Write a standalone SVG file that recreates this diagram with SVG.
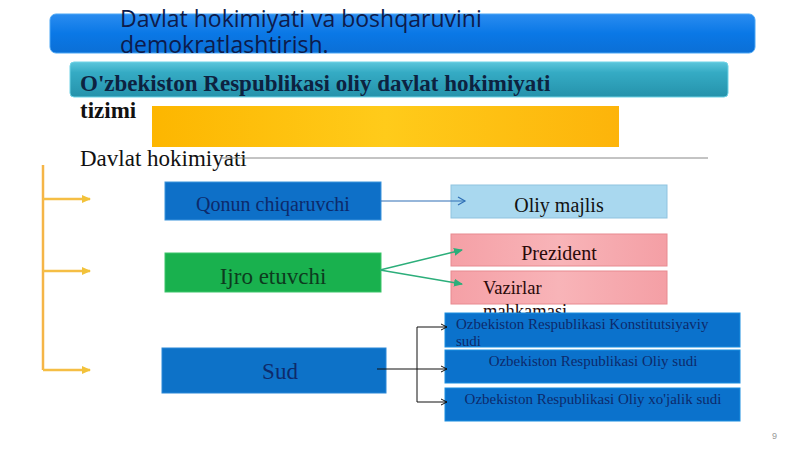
<svg xmlns="http://www.w3.org/2000/svg" width="800" height="449" viewBox="0 0 800 449">
<defs>
<linearGradient id="gTop" x1="0" y1="0" x2="0" y2="1"><stop offset="0" stop-color="#2a8cf0"/><stop offset="0.5" stop-color="#0a78e6"/><stop offset="1" stop-color="#0b6fd6"/></linearGradient>
<linearGradient id="gTeal" x1="0" y1="0" x2="0" y2="1"><stop offset="0" stop-color="#5cc6dc"/><stop offset="0.3" stop-color="#35abc4"/><stop offset="1" stop-color="#2592ab"/></linearGradient>
<linearGradient id="gYel" x1="0" y1="0" x2="1" y2="0"><stop offset="0" stop-color="#fdb600"/><stop offset="0.5" stop-color="#ffcb1a"/><stop offset="1" stop-color="#fdb40a"/></linearGradient>
<linearGradient id="gPink" x1="0" y1="0" x2="1" y2="0"><stop offset="0" stop-color="#f5a0a6"/><stop offset="0.5" stop-color="#f8b4b8"/><stop offset="1" stop-color="#f49fa5"/></linearGradient>
<marker id="aBlue" markerWidth="10" markerHeight="10" refX="8" refY="5" orient="auto" markerUnits="userSpaceOnUse"><path d="M1,1 L8,5 L1,9" fill="none" stroke="#2f6fb5" stroke-width="1.2"/></marker>
<marker id="aGreen" markerWidth="10" markerHeight="10" refX="8" refY="5" orient="auto" markerUnits="userSpaceOnUse"><path d="M0,1 L9,5 L0,9 Z" fill="#2cae7a"/></marker>
<marker id="aBlack" markerWidth="8" markerHeight="8" refX="7" refY="4" orient="auto" markerUnits="userSpaceOnUse"><path d="M1,1 L7,4 L1,7" fill="none" stroke="#111" stroke-width="1"/></marker>
<marker id="aOrange" markerWidth="10" markerHeight="10" refX="8" refY="5" orient="auto" markerUnits="userSpaceOnUse"><path d="M0,1 L9,5 L0,9 Z" fill="#f2c23a"/></marker>
</defs>
<style>
.serif{font-family:"Liberation Serif","Times New Roman",serif}
.sans{font-family:"Open Sans","Noto Sans","DejaVu Sans",sans-serif}
.navy{fill:#0d1b4b}
.court{fill:#0b72cc;stroke:#1b8ee0;stroke-width:1}
.ctext{font-family:"Liberation Serif",serif;font-size:15px;fill:#0d2a6b}
</style>
<rect width="800" height="449" fill="#ffffff"/>

<g id="title">
<rect x="50" y="14" width="705" height="39" rx="6" fill="url(#gTop)" stroke="#4aa6f5" stroke-width="1"/>
<text x="120" y="27" class="sans navy" font-size="23">Davlat hokimiyati va boshqaruvini</text>
<text x="120" y="53" class="sans navy" font-size="23">demokratlashtirish.</text>
</g>

<g id="subtitle">
<rect x="70" y="62" width="658" height="35" rx="4" fill="url(#gTeal)" stroke="#6fd3e6" stroke-width="1"/>
<text x="80" y="91" class="serif" font-size="23" font-weight="bold" fill="#0d2240">O'zbekiston Respublikasi oliy davlat hokimiyati</text>
<text x="80" y="118" class="serif" font-size="23" font-weight="bold" fill="#111">tizimi</text>
</g>

<g id="yellowbar">
<rect x="152" y="106" width="467" height="41" fill="url(#gYel)"/>
</g>

<g id="heading">
<text x="80" y="166" class="serif" font-size="23" fill="#111">Davlat hokimiyati</text>
<line x1="220" y1="158" x2="708" y2="158" stroke="#888" stroke-width="1"/>
</g>

<g id="qonun">
<rect x="165" y="182" width="216" height="38" fill="#0e70c8" stroke="#3a93dc" stroke-width="1"/>
<text x="273" y="211" class="serif" font-size="20" text-anchor="middle" fill="#0d2a6b">Qonun chiqaruvchi</text>
</g>

<g id="oliymajlis">
<rect x="451" y="185" width="216" height="33" fill="#a9d8ef" stroke="#8fc3df" stroke-width="1"/>
<text x="559" y="212" class="serif" font-size="20" text-anchor="middle" fill="#111">Oliy majlis</text>
</g>

<g id="ijro">
<rect x="165" y="253" width="216" height="39" fill="#19b14e" stroke="#3cc56a" stroke-width="1"/>
<text x="273" y="284" class="serif" font-size="23" text-anchor="middle" fill="#0d3b1e">Ijro etuvchi</text>
</g>

<g id="prezident">
<rect x="451" y="234" width="216" height="32" fill="url(#gPink)" stroke="#e88a90" stroke-width="1"/>
<text x="559" y="260" class="serif" font-size="20" text-anchor="middle" fill="#2a0a0a">Prezident</text>
</g>

<g id="vazirlar">
<rect x="451" y="271" width="216" height="33" fill="url(#gPink)" stroke="#e88a90" stroke-width="1"/>
<text x="483" y="294" class="serif" font-size="18.5" fill="#2a0a0a">Vazirlar</text>
<text x="483" y="317" class="serif" font-size="18.5" fill="#2a0a0a">mahkamasi</text>
</g>

<g id="sud">
<rect x="162" y="348" width="224" height="45" fill="#0d72c8" stroke="#2a88d8" stroke-width="1"/>
<text x="280" y="379" class="serif" font-size="23" text-anchor="middle" fill="#0d2a6b">Sud</text>
</g>

<g id="konstitutsiyaviy">
<rect x="445" y="313" width="295" height="34" class="court"/>
<text x="456" y="329" class="ctext">Ozbekiston Respublikasi Konstitutsiyaviy</text>
<text x="456" y="346" class="ctext">sudi</text>
</g>

<g id="oliysud">
<rect x="445" y="350" width="295" height="33" class="court"/>
<text x="593" y="366" class="ctext" text-anchor="middle">Ozbekiston Respublikasi Oliy sudi</text>
</g>

<g id="xojalik">
<rect x="445" y="388" width="295" height="33" class="court"/>
<text x="593" y="404" class="ctext" text-anchor="middle">Ozbekiston Respublikasi Oliy xo'jalik sudi</text>
</g>

<g id="connectors">
<path d="M43,165 V370" stroke="#f5b547" stroke-width="2.5" fill="none"/>
<path d="M43,199 H90" stroke="#f5be45" stroke-width="2.5" fill="none" marker-end="url(#aOrange)"/>
<path d="M43,271 H90" stroke="#f5be45" stroke-width="2.5" fill="none" marker-end="url(#aOrange)"/>
<path d="M43,370 H90" stroke="#f5be45" stroke-width="2.5" fill="none" marker-end="url(#aOrange)"/>
<path d="M381,201 H465" stroke="#2f6fb5" stroke-width="1.2" fill="none" marker-end="url(#aBlue)"/>
<path d="M380,270 L462,250" stroke="#2cae7a" stroke-width="1.5" fill="none" marker-end="url(#aGreen)"/>
<path d="M380,270 L462,284" stroke="#2cae7a" stroke-width="1.5" fill="none" marker-end="url(#aGreen)"/>
<path d="M377,369 H417" stroke="#111" stroke-width="1" fill="none"/>
<path d="M417,327 V402" stroke="#111" stroke-width="1" fill="none"/>
<path d="M417,327 H447" stroke="#111" stroke-width="1" fill="none" marker-end="url(#aBlack)"/>
<path d="M417,369 H447" stroke="#111" stroke-width="1" fill="none" marker-end="url(#aBlack)"/>
<path d="M417,402 H447" stroke="#111" stroke-width="1" fill="none" marker-end="url(#aBlack)"/>
</g>

<text x="772" y="439" font-family="Liberation Sans, sans-serif" font-size="9" fill="#999">9</text>
</svg>
